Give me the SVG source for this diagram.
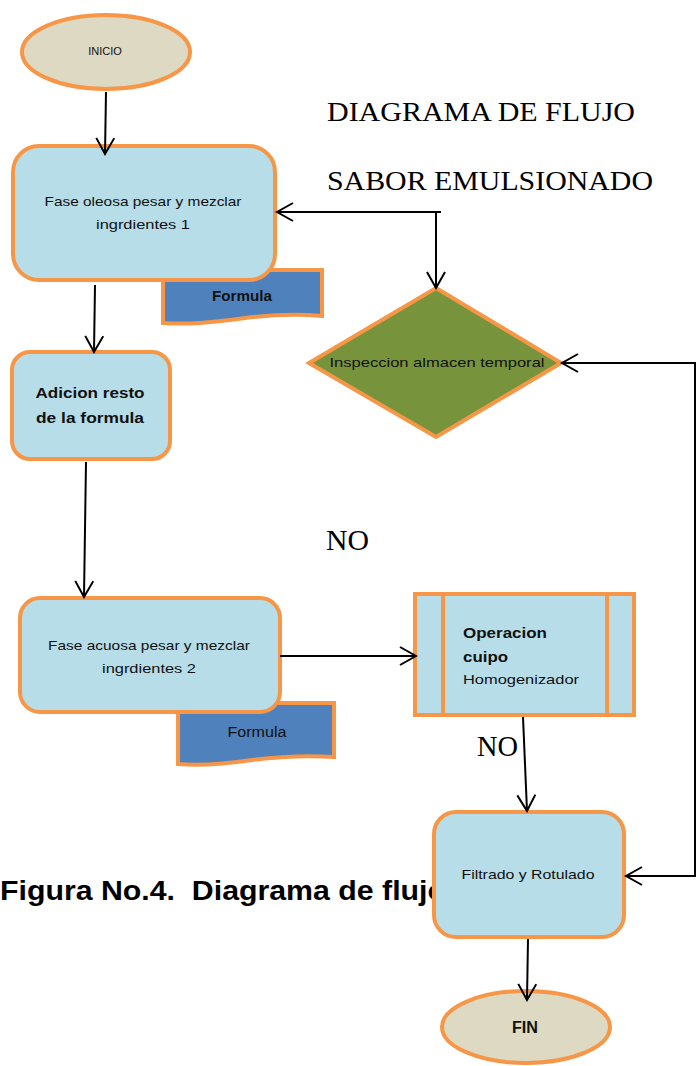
<svg xmlns="http://www.w3.org/2000/svg" width="696" height="1066" viewBox="0 0 696 1066">
<style>
.box{fill:#b7dde8;stroke:#f79646;stroke-width:4}
.term{fill:#ddd9c3;stroke:#f79646;stroke-width:4}
.doc{fill:#4f81bd;stroke:#f79646;stroke-width:4}
.dia{fill:#77933c;stroke:#f79646;stroke-width:4}
.t{font-family:"Liberation Sans",Arial,sans-serif;fill:#111;text-anchor:middle}
.tl{font-family:"Liberation Sans",Arial,sans-serif;fill:#111}
.b{font-weight:bold}
.tr{font-family:"Liberation Serif","Times New Roman",serif;fill:#000}
.cap{font-family:"Liberation Sans",Arial,sans-serif;font-weight:bold;fill:#000;white-space:pre}
.con{fill:none;stroke:#000;stroke-width:2}
</style>
<defs>
<marker id="arr" markerUnits="userSpaceOnUse" viewBox="0 0 20 20" refX="18" refY="10" markerWidth="20" markerHeight="20" orient="auto">
<path d="M2,1 L18,10 L2,19" fill="none" stroke="#000" stroke-width="2"/>
</marker>
</defs>
<rect width="696" height="1066" fill="#fff"/>
<g id="title">
<text class="tr" x="327" y="121" font-size="28" textLength="308" lengthAdjust="spacingAndGlyphs">DIAGRAMA DE FLUJO</text>
<text class="tr" x="327" y="190" font-size="28" textLength="326" lengthAdjust="spacingAndGlyphs">SABOR EMULSIONADO</text>
</g>
<g id="caption">
<text class="cap" x="0" y="900" font-size="27" textLength="446" lengthAdjust="spacingAndGlyphs">Figura No.4.  Diagrama de flujo</text>
</g>
<g id="labels">
<text class="tr" x="326" y="550" font-size="29" textLength="43" lengthAdjust="spacingAndGlyphs">NO</text>
<text class="tr" x="477" y="756" font-size="29" textLength="41" lengthAdjust="spacingAndGlyphs">NO</text>
</g>
<g id="inicio">
<ellipse class="term" cx="106" cy="52" rx="84" ry="37"/>
<text class="t" x="105" y="55" font-size="11">INICIO</text>
</g>
<g id="formula1">
<path class="doc" d="M163,270 L322,270 L322,316 C300,314 270,315 245,318 C215,322 190,325 163,323 Z"/>
<text class="t b" x="242" y="301" font-size="14" textLength="60" lengthAdjust="spacingAndGlyphs">Formula</text>
</g>
<g id="fase-oleosa">
<rect class="box" x="13" y="146" width="262" height="134" rx="26"/>
<text class="t" x="143" y="206" font-size="13" textLength="197" lengthAdjust="spacingAndGlyphs">Fase oleosa pesar y mezclar</text>
<text class="t" x="143" y="229" font-size="13" textLength="94" lengthAdjust="spacingAndGlyphs">ingrdientes 1</text>
</g>
<g id="adicion">
<rect class="box" x="12" y="352" width="158" height="107" rx="18"/>
<text class="t b" x="90" y="398" font-size="15" textLength="109" lengthAdjust="spacingAndGlyphs">Adicion resto</text>
<text class="t b" x="90" y="423" font-size="15" textLength="108" lengthAdjust="spacingAndGlyphs">de la formula</text>
</g>
<g id="formula2">
<path class="doc" d="M178,703 L334,703 L334,757 C305,755 275,757 252,760 C225,764 200,766 178,764 Z"/>
<text class="t" x="257" y="737" font-size="14" textLength="59" lengthAdjust="spacingAndGlyphs">Formula</text>
</g>
<g id="fase-acuosa">
<rect class="box" x="20" y="598" width="260" height="114" rx="20"/>
<text class="t" x="149" y="650" font-size="13" textLength="202" lengthAdjust="spacingAndGlyphs">Fase acuosa pesar y mezclar</text>
<text class="t" x="149" y="673" font-size="13" textLength="94" lengthAdjust="spacingAndGlyphs">ingrdientes 2</text>
</g>
<g id="inspeccion">
<polygon class="dia" points="436,288 561,363 436,437 309,363"/>
<text class="t" x="437" y="367" font-size="13" textLength="215" lengthAdjust="spacingAndGlyphs">Inspeccion almacen temporal</text>
</g>
<g id="operacion">
<rect class="box" x="415" y="594" width="219" height="121"/>
<line x1="443" y1="594" x2="443" y2="715" stroke="#f79646" stroke-width="4"/>
<line x1="607" y1="594" x2="607" y2="715" stroke="#f79646" stroke-width="4"/>
<text class="tl b" x="463" y="638" font-size="15" textLength="84" lengthAdjust="spacingAndGlyphs">Operacion</text>
<text class="tl b" x="463" y="662" font-size="15" textLength="45" lengthAdjust="spacingAndGlyphs">cuipo</text>
<text class="tl" x="463" y="684" font-size="13" textLength="116" lengthAdjust="spacingAndGlyphs">Homogenizador</text>
</g>
<g id="filtrado">
<rect class="box" x="434" y="812" width="190" height="125" rx="22"/>
<text class="t" x="528" y="879" font-size="13" textLength="133" lengthAdjust="spacingAndGlyphs">Filtrado y Rotulado</text>
</g>
<g id="fin">
<ellipse class="term" cx="526" cy="1027" rx="84" ry="36"/>
<text class="t b" x="525" y="1033" font-size="16" textLength="26" lengthAdjust="spacingAndGlyphs">FIN</text>
</g>
<g id="connectors">
<path class="con" d="M106,92 L105,154" marker-end="url(#arr)"/>
<path class="con" d="M95,285 L94,352" marker-end="url(#arr)"/>
<path class="con" d="M86,462 L84,597" marker-end="url(#arr)"/>
<path class="con" d="M280,656 L416,656" marker-end="url(#arr)"/>
<path class="con" d="M523,717 L527,811" marker-end="url(#arr)"/>
<path class="con" d="M528,939 L527,1000" marker-end="url(#arr)"/>
<path class="con" d="M441,212 L277,212" marker-end="url(#arr)"/>
<path class="con" d="M436,212 L436,288" marker-end="url(#arr)"/>
<path class="con" d="M695,620 L695,363 L562,363" marker-end="url(#arr)"/>
<path class="con" d="M695,620 L695,876 L626,876" marker-end="url(#arr)"/>
</g>
</svg>
